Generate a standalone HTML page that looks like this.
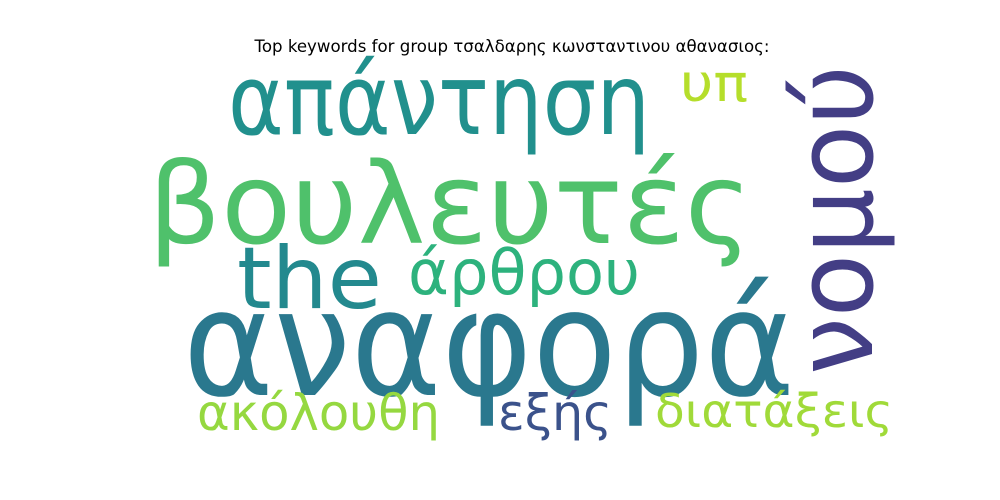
<!DOCTYPE html>
<html>
<head>
<meta charset="utf-8">
<style>
  html, body { margin: 0; padding: 0; background: #fff; }
  svg { display: block; }
  text { font-family: "DejaVu Sans", "Liberation Sans", sans-serif; }
</style>
</head>
<body>
<svg width="1000" height="500" viewBox="0 0 1000 500">
  <rect x="0" y="0" width="1000" height="500" fill="#ffffff"/>
  <text x="512" y="52" font-size="16.5" text-anchor="middle" fill="#000" textLength="515" lengthAdjust="spacingAndGlyphs">Top keywords for group τσαλδαρης κωνσταντινου αθανασιος:</text>

  <text x="228" y="134" font-size="98" fill="#21908d" textLength="422" lengthAdjust="spacingAndGlyphs">απάντηση</text>
  <text x="680" y="101" font-size="52" fill="#b5de2b" textLength="68" lengthAdjust="spacingAndGlyphs">υπ</text>
  <text x="148" y="243" font-size="112" fill="#4fc16b" textLength="604" lengthAdjust="spacingAndGlyphs">βουλευτές</text>
  <text x="0" y="0" font-size="108" fill="#433e85" textLength="310" lengthAdjust="spacingAndGlyphs" transform="translate(872,375) rotate(-90)">νομού</text>
  <text x="237" y="308" font-size="86" fill="#23898e" textLength="145" lengthAdjust="spacingAndGlyphs">the</text>
  <text x="408" y="294" font-size="62" fill="#2db27d" textLength="232" lengthAdjust="spacingAndGlyphs">άρθρου</text>
  <text x="183" y="395" font-size="148" fill="#2a788e" textLength="612" lengthAdjust="spacingAndGlyphs">αναφορά</text>
  <text x="197" y="430" font-size="50" fill="#95d840" textLength="243" lengthAdjust="spacingAndGlyphs">ακόλουθη</text>
  <text x="498" y="430" font-size="50" fill="#3b528b" textLength="114" lengthAdjust="spacingAndGlyphs">εξής</text>
  <text x="655" y="427" font-size="46" fill="#a0da39" textLength="238" lengthAdjust="spacingAndGlyphs">διατάξεις</text>
</svg>
</body>
</html>
